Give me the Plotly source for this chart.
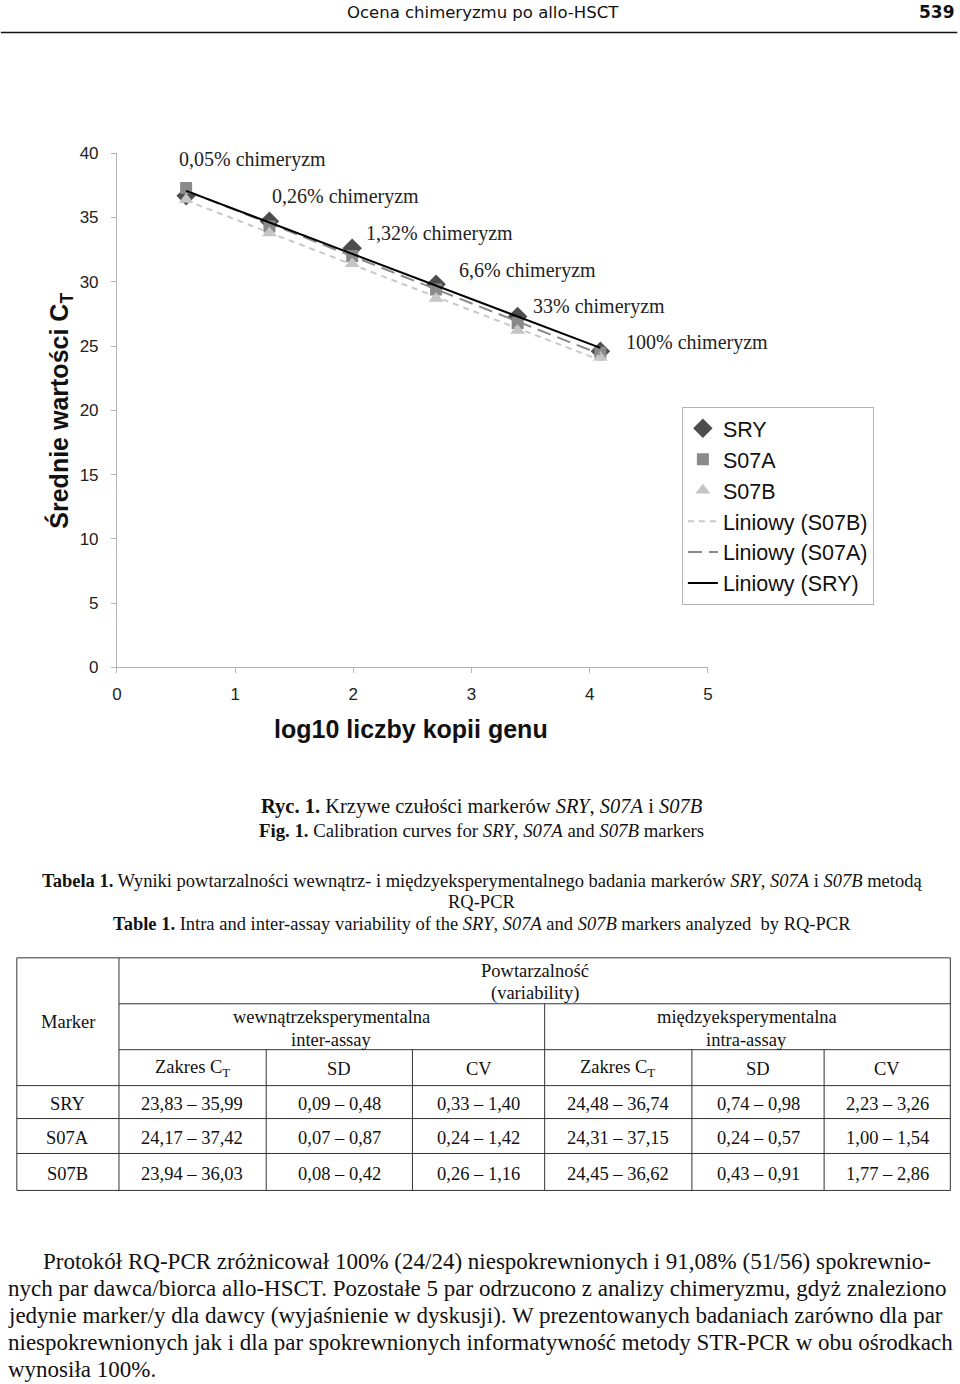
import numpy as np
import plotly.graph_objects as go

W, H = 960, 1384

# ---------------- data ----------------
log_copies = [0.585, 1.29, 1.99, 2.70, 3.39, 4.09]
ct_sry = [36.7, 34.7, 32.6, 29.8, 27.3, 24.6]
ct_s07a = [37.3, 34.3, 32.0, 29.4, 26.8, 24.5]
ct_s07b = [36.4, 33.8, 31.4, 28.7, 26.2, 24.1]
chim_labels = ["0,05% chimeryzm", "0,26% chimeryzm", "1,32% chimeryzm",
               "6,6% chimeryzm", "33% chimeryzm", "100% chimeryzm"]
x_ticks = [0, 1, 2, 3, 4, 5]
y_ticks = [0, 5, 10, 15, 20, 25, 30, 35, 40]

tbl_markers = ["SRY", "S07A", "S07B"]
inter_ct = ["23,83 – 35,99", "24,17 – 37,42", "23,94 – 36,03"]
inter_sd = ["0,09 – 0,48", "0,07 – 0,87", "0,08 – 0,42"]
inter_cv = ["0,33 – 1,40", "0,24 – 1,42", "0,26 – 1,16"]
intra_ct = ["24,48 – 36,74", "24,31 – 37,15", "24,45 – 36,62"]
intra_sd = ["0,74 – 0,98", "0,24 – 0,57", "0,43 – 0,91"]
intra_cv = ["2,23 – 3,26", "1,00 – 1,54", "1,77 – 2,86"]

paragraph = [
    "Protokół RQ-PCR zróżnicował 100% (24/24) niespokrewnionych i 91,08% (51/56) spokrewnio-",
    "nych par dawca/biorca allo-HSCT. Pozostałe 5 par odrzucono z analizy chimeryzmu, gdyż znaleziono",
    "jedynie marker/y dla dawcy (wyjaśnienie w dyskusji). W prezentowanych badaniach zarówno dla par",
    "niespokrewnionych jak i dla par spokrewnionych informatywność metody STR-PCR w obu ośrodkach",
    "wynosiła 100%.",
]

# ---------------- helpers (page pixel -> paper, with small calibration) ----------------
S, OX, OY = 0.988, 4.2, 7.5

def px(x):
    return ((x - OX) / S) / W

def py(y):
    return 1 - ((y - OY) / S) / H

SANS = "Liberation Sans, Arial, sans-serif"
SERIF = "Liberation Serif, Times New Roman, serif"

fig = go.Figure()

# markers
fig.add_trace(go.Scatter(x=log_copies, y=ct_sry, mode="markers", name="SRY",
                         marker=dict(symbol="diamond", size=15, color="#4d4d4d")))
fig.add_trace(go.Scatter(x=log_copies, y=ct_s07a, mode="markers", name="S07A",
                         marker=dict(symbol="square", size=12, color="#8a8a8a")))
fig.add_trace(go.Scatter(x=log_copies, y=ct_s07b, mode="markers", name="S07B",
                         marker=dict(symbol="triangle-up", size=13, color="#c4c4c4")))

# linear trendlines
def trend(yv):
    k, b = np.polyfit(log_copies, yv, 1)
    xs = np.array([min(log_copies), max(log_copies)])
    return xs, k * xs + b

xs, ys = trend(ct_s07b)
fig.add_trace(go.Scatter(x=xs, y=ys, mode="lines", name="Liniowy (S07B)",
                         line=dict(color="#c8c8c8", width=2, dash="6px,5px")))
xs, ys = trend(ct_s07a)
fig.add_trace(go.Scatter(x=xs, y=ys, mode="lines", name="Liniowy (S07A)",
                         line=dict(color="#8a8a8a", width=2, dash="14px,7px")))
xs, ys = trend(ct_sry)
fig.add_trace(go.Scatter(x=xs, y=ys, mode="lines", name="Liniowy (SRY)",
                         line=dict(color="#000000", width=2)))

annotations = []
shapes = []

def note(text, x, y, size, family, xanchor="center", color="#111", **kw):
    annotations.append(dict(text=text, x=px(x), y=py(y), xref="paper", yref="paper",
                            xanchor=xanchor, yanchor="middle", showarrow=False,
                            font=dict(family=family, size=size, color=color), **kw))

# chimerism labels (page pixel positions)
chim_pos = [(176, 158), (269, 195), (363, 232), (455, 269), (529, 306), (622, 342)]
for txt, (x, y) in zip(chim_labels, chim_pos):
    note(txt, x, y, 20, SERIF, xanchor="left", color="#222")

# axis titles
note("<b>log10 liczby kopii genu</b>", 410, 729, 25, SANS)
note("<b>Średnie wartości C<sub>T</sub></b>", 60, 410, 25, SANS, textangle=-90)

# page header
note("Ocena chimeryzmu po allo-HSCT", 481, 11, 16.5, "DejaVu Sans")
note("<b>539</b>", 955, 11, 17, "DejaVu Sans", xanchor="right")
shapes.append(dict(type="line", xref="paper", yref="paper", x0=px(0), x1=px(955),
                   y0=py(31), y1=py(31), line=dict(color="#111", width=1.5)))

# captions
note("<b>Ryc. 1.</b> Krzywe czułości markerów <i>SRY</i>, <i>S07A</i> i <i>S07B</i>",
     480, 806, 20.5, SERIF)
note("<b>Fig. 1.</b> Calibration curves for <i>SRY</i>, <i>S07A</i> and <i>S07B</i> markers",
     480, 830, 18.8, SERIF)
note("<b>Tabela 1.</b> Wyniki powtarzalności wewnątrz- i międzyeksperymentalnego badania markerów "
     "<i>SRY</i>, <i>S07A</i> i <i>S07B</i> metodą", 480, 881, 18.5, SERIF)
note("RQ-PCR", 480, 902, 18.5, SERIF)
note("<b>Table 1.</b> Intra and inter-assay variability of the <i>SRY</i>, <i>S07A</i> and "
     "<i>S07B</i> markers analyzed  by RQ-PCR", 480, 924, 18.5, SERIF)

# ---------------- table ----------------
L, R, T, B = 16, 948, 958, 1191
def hline(x0, x1, y):
    shapes.append(dict(type="line", xref="paper", yref="paper", x0=px(x0), x1=px(x1),
                       y0=py(y), y1=py(y), line=dict(color="#333", width=1)))
def vline(x, y0, y1):
    shapes.append(dict(type="line", xref="paper", yref="paper", x0=px(x), x1=px(x),
                       y0=py(y0), y1=py(y1), line=dict(color="#333", width=1)))

hline(L, R, T); hline(L, R, B); vline(L, T, B); vline(R, T, B)
vline(118, T, B)
hline(118, R, 1004)
vline(543, 1004, B)
hline(118, R, 1050)
for xv in [265, 411, 690, 822]:
    vline(xv, 1050, B)
for yv in [1086, 1119, 1154]:
    hline(L, R, yv)

def ttext(txt, x, y):
    note(txt, x, y, 18.5, SERIF)

ttext("Powtarzalność", 533, 971)
ttext("(variability)", 533, 994)
ttext("Marker", 67, 1022)
ttext("wewnątrzeksperymentalna", 330, 1017)
ttext("inter-assay", 330, 1040)
ttext("międzyeksperymentalna", 745, 1017)
ttext("intra-assay", 745, 1040)
col_x = [191, 338, 477, 616, 756, 885]
col_heads = ["Zakres C<sub>T</sub>", "SD", "CV", "Zakres C<sub>T</sub>", "SD", "CV"]
for h, cx in zip(col_heads, col_x):
    ttext(h, cx, 1069)
row_y = [1104, 1138, 1175]
cols = [inter_ct, inter_sd, inter_cv, intra_ct, intra_sd, intra_cv]
for i, ry in enumerate(row_y):
    ttext(tbl_markers[i], 67, ry)
    for cx, col in zip(col_x, cols):
        ttext(col[i], cx, ry)

# ---------------- paragraph ----------------
para_y = [1262, 1289, 1316, 1343, 1370]
for i, (line, y) in enumerate(zip(paragraph, para_y)):
    note(line, 40 if i == 0 else 5, y, 23, SERIF, xanchor="left")

axis_common = dict(showline=True, linecolor="#b4b4b4", linewidth=1, ticks="outside",
                   ticklen=5, tickcolor="#b4b4b4", showgrid=False, zeroline=False,
                   tickfont=dict(family=SANS, size=17, color="#222"))

fig.update_layout(
    width=W, height=H, margin=dict(l=0, r=0, t=0, b=0),
    paper_bgcolor="white", plot_bgcolor="white",
    xaxis=dict(domain=[px(116), px(706)], range=[0, 5], tickvals=x_ticks,
               ticklabelstandoff=6, **axis_common),
    yaxis=dict(domain=[py(667), py(152)], range=[0, 40], tickvals=y_ticks,
               ticklabelstandoff=9, **axis_common),
    legend=dict(x=px(680), y=py(406), xanchor="left", yanchor="top",
                bordercolor="#b4b4b4", borderwidth=1, bgcolor="white",
                font=dict(family=SANS, size=21.5, color="#111"), tracegroupgap=0),
    showlegend=True,
    annotations=annotations,
    shapes=shapes,
)

fig.write_html("out.html", config={"displayModeBar": False},
               post_script="document.body.style.margin='0';document.body.style.overflow='hidden';")
